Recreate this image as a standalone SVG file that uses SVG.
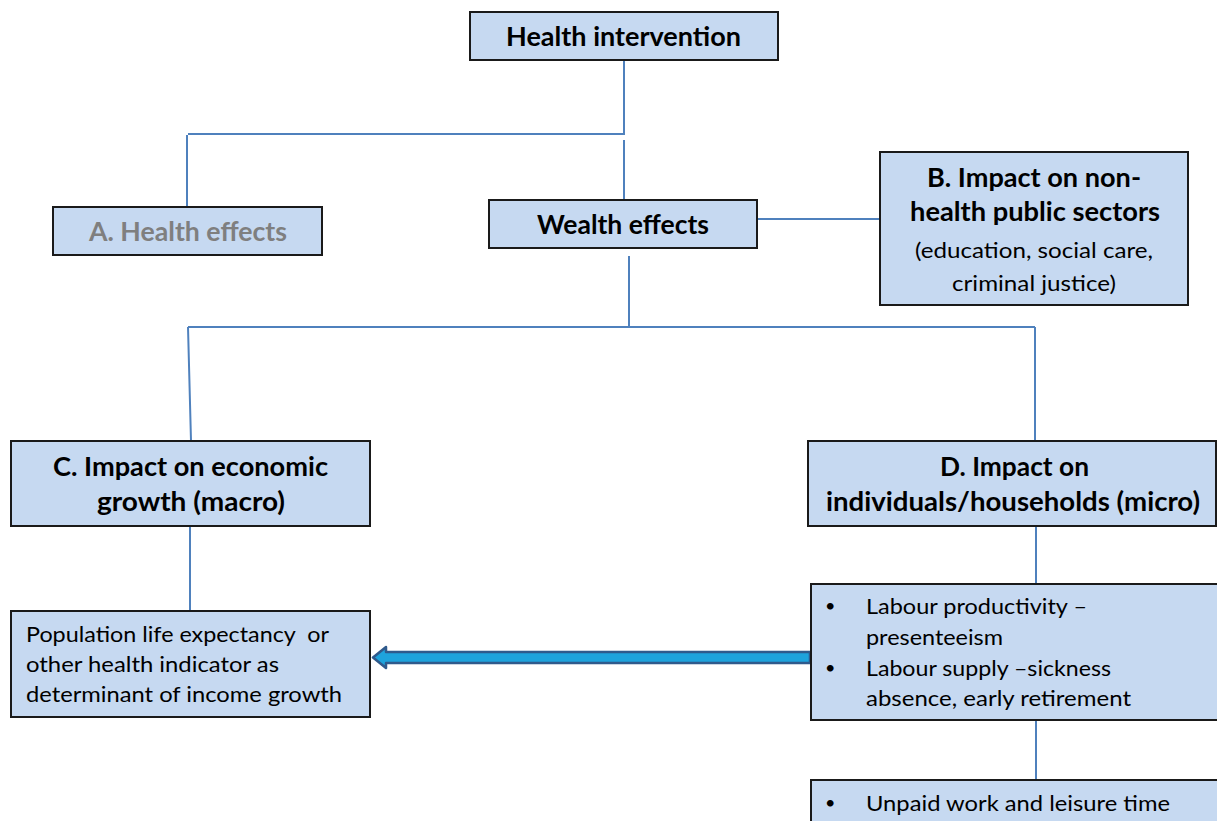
<svg xmlns="http://www.w3.org/2000/svg" width="1217" height="821" viewBox="0 0 1217 821">
<style>
.box{fill:#c6d9f1;stroke:#1a1a1a;stroke-width:2}
.t{font-family:Lato,"Liberation Sans",sans-serif;fill:#000}
.b{font-weight:bold;font-size:26px}
.r{font-size:22px}
.d{font-size:18px}
.c{fill:none;stroke:#4f81bd;stroke-width:2}
</style>
<rect width="1217" height="821" fill="#fff"/>
<g id="connectors">
<path class="c" d="M624 60V134H188M187 135V207M624 140V200M757 219H880M629 256V327M188 327H1035M188 327L191 441M1035 327V441M190 526V611M1036 526V584M1036 720V780"/>
<path d="M810 652H386V647L373 657.5L386 668V663H810Z" fill="#1ea3dc" stroke="#2f5a8c" stroke-width="2.5" stroke-linejoin="round"/>
</g>
<g id="health-intervention">
<rect class="box" x="470" y="12" width="308" height="48"/>
<text class="t b" x="506" y="46" textLength="235" lengthAdjust="spacingAndGlyphs">Health intervention</text>
</g>
<g id="health-effects">
<rect class="box" x="53" y="207" width="269" height="48"/>
<text class="t b" x="89" y="241" textLength="198" lengthAdjust="spacingAndGlyphs" style="fill:#7f7f7f">A. Health effects</text>
</g>
<g id="wealth-effects">
<rect class="box" x="489" y="200" width="268" height="48"/>
<text class="t b" x="537" y="234" textLength="172" lengthAdjust="spacingAndGlyphs">Wealth effects</text>
</g>
<g id="non-health">
<rect class="box" x="880" y="152" width="308" height="153"/>
<text class="t b" x="927" y="187" textLength="214" lengthAdjust="spacingAndGlyphs">B. Impact on non-</text>
<text class="t b" x="910" y="221" textLength="250" lengthAdjust="spacingAndGlyphs">health public sectors</text>
<text class="t r" x="915" y="258" textLength="238" lengthAdjust="spacingAndGlyphs">(education, social care,</text>
<text class="t r" x="952" y="291" textLength="164" lengthAdjust="spacingAndGlyphs">criminal justice)</text>
</g>
<g id="macro">
<rect class="box" x="11" y="441" width="359" height="85"/>
<text class="t b" x="53" y="476" textLength="275" lengthAdjust="spacingAndGlyphs">C. Impact on economic</text>
<text class="t b" x="97" y="511" textLength="188" lengthAdjust="spacingAndGlyphs">growth (macro)</text>
</g>
<g id="micro">
<rect class="box" x="808" y="441" width="408" height="85"/>
<text class="t b" x="940" y="476" textLength="149" lengthAdjust="spacingAndGlyphs">D. Impact on</text>
<text class="t b" x="826" y="511" textLength="374" lengthAdjust="spacingAndGlyphs">individuals/households (micro)</text>
</g>
<g id="population">
<rect class="box" x="11" y="611" width="359" height="106"/>
<text class="t r" x="26" y="642" textLength="303" lengthAdjust="spacingAndGlyphs" xml:space="preserve">Population life expectancy  or</text>
<text class="t r" x="26" y="672" textLength="253" lengthAdjust="spacingAndGlyphs">other health indicator as</text>
<text class="t r" x="26" y="702" textLength="316" lengthAdjust="spacingAndGlyphs">determinant of income growth</text>
</g>
<g id="labour">
<rect class="box" x="811" y="584" width="410" height="136"/>
<text class="t d" x="825" y="612">•</text>
<text class="t r" x="866" y="614" textLength="221" lengthAdjust="spacingAndGlyphs">Labour productivity –</text>
<text class="t r" x="866" y="645" textLength="137" lengthAdjust="spacingAndGlyphs">presenteeism</text>
<text class="t d" x="825" y="674">•</text>
<text class="t r" x="866" y="676" textLength="245" lengthAdjust="spacingAndGlyphs">Labour supply –sickness</text>
<text class="t r" x="866" y="706" textLength="265" lengthAdjust="spacingAndGlyphs">absence, early retirement</text>
</g>
<g id="unpaid">
<rect class="box" x="811" y="780" width="410" height="50"/>
<text class="t d" x="825" y="809">•</text>
<text class="t r" x="866" y="811" textLength="304" lengthAdjust="spacingAndGlyphs">Unpaid work and leisure time</text>
</g>
</svg>
